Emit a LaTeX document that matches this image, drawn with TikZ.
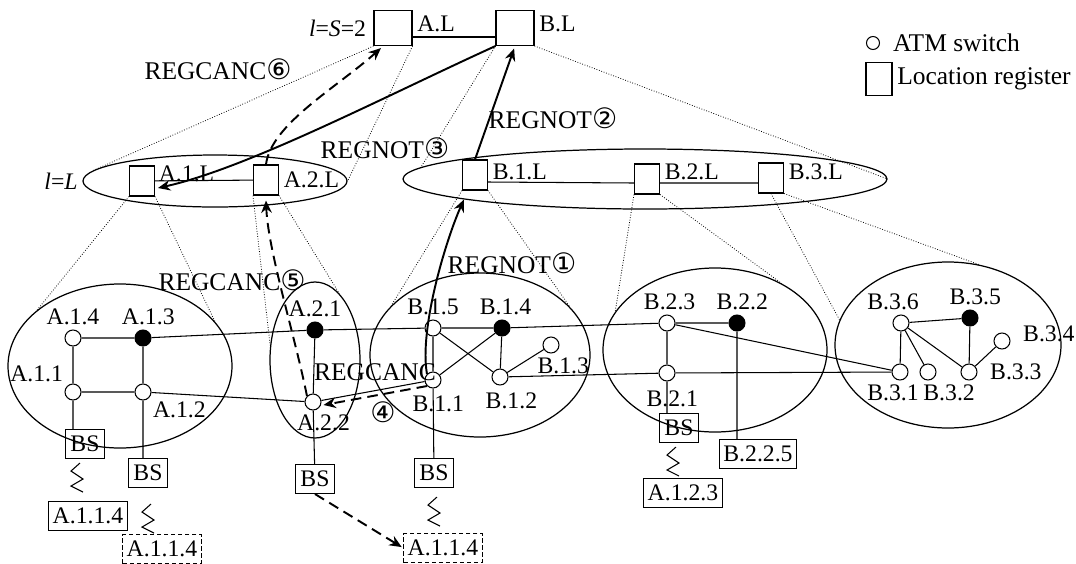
\documentclass[tikz,border=0pt]{standalone}
\usepackage{fontspec}
\setmainfont{Liberation Serif}
\newfontfamily\circfont{DejaVu Sans}
\usetikzlibrary{shapes.geometric,arrows.meta}
\newcommand{\cnum}[1]{{\circfont\fontsize{16}{16}\selectfont #1}}
\begin{document}
\begin{tikzpicture}[x=0.2mm,y=-0.2mm,
        font=\fontsize{13.5}{15}\selectfont,
        lbl/.style={inner sep=1pt},
        big/.style={lbl,font=\fontsize{14.5}{16}\selectfont},
        every label/.style={lbl},
        label distance=1.5pt,
        reg/.style={draw,line width=0.6pt,minimum width=0.5cm,minimum height=0.6cm,inner sep=0pt},
        topreg/.style={reg,minimum width=0.76cm,minimum height=0.7cm},
        sw/.style={circle,draw,fill=white,line width=0.6pt,minimum size=0.32cm,inner sep=0pt},
        swf/.style={sw,fill=black},
        area/.style={ellipse,draw,line width=0.7pt,inner sep=0pt},
        bs/.style={draw,line width=0.6pt,inner xsep=0.1cm,inner ysep=0pt,minimum height=0.58cm},
        term/.style={draw,line width=0.6pt,inner xsep=0.08cm,inner ysep=0pt,minimum height=0.58cm},
        oldterm/.style={term,dash pattern=on 2.5pt off 1.5pt},
        proj/.style={densely dotted,line width=0.45pt},
        link/.style={line width=0.6pt},
        msg/.style={line width=1.1pt,-{Stealth[length=7pt,width=6pt]}},
        cancel/.style={msg,dash pattern=on 6pt off 3.5pt},
        radio/.pic={\draw[link] (3,0) -- (-6,8) -- (6,16) -- (-6,23) -- (6,29);}
    ]
    \useasboundingbox (0,0) rectangle (1076,563);
    \node[area,minimum width=5.28cm,minimum height=1.04cm,label={left:{\textit{l}=\textit{L}}}] (EA) at (215,181) {};
    \node[area,minimum width=9.68cm,minimum height=1.2cm] (EB) at (645,179) {};
    \node[area,minimum width=4.48cm,minimum height=3.28cm] (EA1) at (120,366) {};
    \node[area,minimum width=1.8cm,minimum height=3.12cm] (EA2) at (315,360) {};
    \node[area,minimum width=4.4cm,minimum height=3.28cm] (EB1) at (480,355) {};
    \node[area,minimum width=4.48cm,minimum height=3.28cm] (EB2) at (715,350) {};
    \node[area,minimum width=4.52cm,minimum height=3.32cm] (EB3) at (948,345) {};

    \node[topreg,label={[yshift=2.5pt]right:A.L},label={[label distance=3pt]left:{\textit{l}=\textit{S}=2}}] (AL) at (393,28) {};
    \node[topreg,label={[yshift=2.5pt]right:B.L}] (BL) at (515,28) {};
    \node[reg,label={[anchor=north west]north east:A.1.L}] (A1L) at (142,181) {};
    \node[reg,label={right:A.2.L}] (A2L) at (266,180) {};
    \node[reg,label={[yshift=2pt]right:B.1.L}] (B1L) at (475,175) {};
    \node[reg,label={[yshift=4pt]right:B.2.L}] (B2L) at (647,179) {};
    \node[reg,label={[yshift=3.5pt]right:B.3.L}] (B3L) at (771,178) {};

    \node[sw,label={above:A.1.4}] (A14) at (73,338) {};
    \node[swf,label={[xshift=3pt]above:A.1.3}] (A13) at (143,338) {};
    \node[sw,label={above left:A.1.1}] (A11) at (73,392) {};
    \node[sw,label={below right:A.1.2}] (A12) at (143,392) {};
    \node[swf,label={above:A.2.1}] (A21) at (315,330) {};
    \node[sw,label={[xshift=6pt]below:A.2.2}] (A22) at (313,402) {};
    \node[sw,label={above:B.1.5}] (B15) at (433,328) {};
    \node[swf,label={[xshift=2pt]above:B.1.4}] (B14) at (502,328) {};
    \node[sw,label={[xshift=3pt,label distance=3pt]below:B.1.1}] (B11) at (433,380) {};
    \node[sw,label={[xshift=6.5pt,label distance=3pt]below:B.1.2}] (B12) at (500,377) {};
    \node[sw,label={[xshift=7pt]below:B.1.3}] (B13) at (551,345) {};
    \node[sw,label={[xshift=1.5pt]above:B.2.3}] (B23) at (667,323) {};
    \node[swf,label={[xshift=3pt]above:B.2.2}] (B22) at (737,323) {};
    \node[sw,label={[xshift=3pt,label distance=4pt]below:B.2.1}] (B21) at (667,373) {};
    \node[sw,label={[xshift=-4.5pt]above:B.3.6}] (B36) at (901,323) {};
    \node[swf,label={[xshift=3pt]above:B.3.5}] (B35) at (970,318) {};
    \node[sw,label={[label distance=6pt,yshift=4pt]right:B.3.4}] (B34) at (1002,341) {};
    \node[sw,label={[xshift=-4pt]below:B.3.1}] (B31) at (900,372) {};
    \node[sw,label={[xshift=12pt]below:B.3.2}] (B32) at (928,372) {};
    \node[sw,label={[label distance=6pt]right:B.3.3}] (B33) at (969,372) {};

    \node[bs] (BS1) at (85,444) {BS};
    \node[bs] (BS2) at (148,473) {BS};
    \node[bs] (BS3) at (315,479) {BS};
    \node[bs] (BS4) at (434,473) {BS};
    \node[bs] (BS5) at (679,428) {BS};
    \node[term] (T1) at (88,516) {A.1.1.4};
    \node[oldterm] (T2) at (162,549) {A.1.1.4};
    \node[oldterm] (T3) at (443,548) {A.1.1.4};
    \node[term] (T4) at (683,493) {A.1.2.3};
    \node[term] (T5) at (758,454) {B.2.2.5};

    \node[sw,minimum size=0.26cm,label={[big,label distance=0.22cm]right:ATM switch}] (legsw) at (873,43) {};
    \node[reg,minimum width=0.52cm,minimum height=0.66cm,label={[big]right:Location register}] (legreg) at (879,79) {};

    \draw[proj] (AL.south west) -- (EA.175) (AL.south east) -- (EA.east)
        (BL.south west) -- (EB.177) (BL.south east) -- (EB.east)
        (A1L.south west) -- (EA1.146) (A1L.south east) -- (EA1.25)
        (A2L.south west) -- (EA2.162) (A2L.south east) -- (EA2.70)
        (B1L.south west) -- (EB1.151) (B1L.south east) -- (EB1.28)
        (B2L.south west) -- (EB2.159) (B2L.south east) -- (EB2.45)
        (B3L.south) -- (EB3.167) (B3L.south east) -- (EB3.69);

    \draw[link] ([shift={(0,9)}]AL.east) -- ([shift={(0,9)}]BL.west);
    \draw[link] (A1L) -- (A2L);
    \draw[link] ([shift={(0,7)}]B1L.east) -- ([shift={(0,4)}]B2L.west)
        ([shift={(0,4)}]B2L.east) -- ([shift={(0,5)}]B3L.west);
    \draw[link] (A14) -- (A13) (A14) -- (A11) (A13) -- (A12) (A11) -- (A12)
        (A13) -- (A21) (A12) -- (A22) (A21) -- (A22) (A21) -- (B15) (A22) -- (B11)
        (B15) -- (B14) (B15) -- (B11) (B15) -- (B12) (B11) -- (B14) (B14) -- (B12) (B12) -- (B13)
        (B14) -- (B23) (B12) -- (B21) (B23) -- (B22) (B23) -- (B21) (B23) -- (B31) (B21) -- (B31)
        (B36) -- (B35) (B36) -- (B31) (B36) -- (B32) (B36) -- (B33) (B35) -- (B33) (B33) -- (B34);
    \draw[link] (A11) -- (A11 |- BS1.north) (A12) -- (A12 |- BS2.north) (A22) -- (BS3)
        (B11) -- (BS4) (B21) -- (B21 |- BS5.north) (B22) -- (B22 |- T5.north);
    \pic at ([shift={(-8,4)}]BS1.south) {radio};
    \pic at ([shift={(0,16)}]BS2.south) {radio};
    \pic at ([shift={(0,9)}]BS4.south) {radio};
    \pic at ([shift={(-6,4)}]BS5.south) {radio};

    \draw[msg] (B11.north west) .. controls +(-8,-45) and +(-18,40) .. ([shift={(2,9)}]B1L.south west);
    \draw[msg,shorten >=1.5pt] (B1L.north) -- (BL.south);
    \draw[msg] (BL.south west) .. controls +(-110,50) and +(90,-20) .. ([shift={(3,7)}]A1L.east);
    \draw[cancel] (B11.south west) -- ([shift={(2,3)}]A22.east);
    \draw[cancel] (A22.north west) .. controls +(-12,-60) and +(2,50) .. ([shift={(0,5)}]A2L.south);
    \draw[cancel] (A2L.north) .. controls +(5,-40) and +(-45,40) .. ([shift={(-12,2)}]AL.south);
    \draw[cancel,shorten >=1pt] (BS3.south) -- (T3.west);

    \node[big] (m6) at (218,69) {REGCANC\cnum{⑥}};
    \node[big] (m3) at (385,148) {REGNOT\cnum{③}};
    \node[big] (m2) at (553,118) {REGNOT\cnum{②}};
    \node[big] (m1) at (512,263) {REGNOT\cnum{①}};
    \node[big] (m5) at (232,280) {REGCANC\cnum{⑤}};
    \node[big] (m4) at (375,372) {REGCANC};
    \node[big] (m4n) at (383,412) {\cnum{④}};
\end{tikzpicture}
\end{document}
